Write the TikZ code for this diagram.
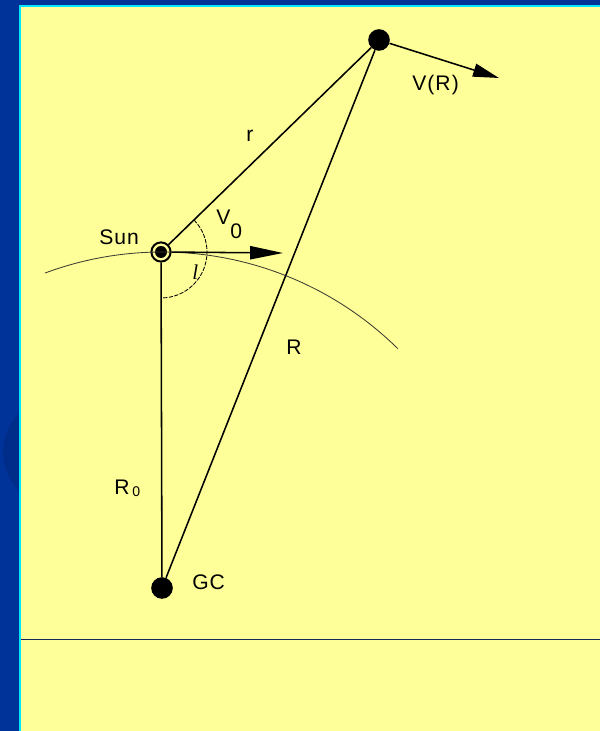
\documentclass[tikz,border=0pt]{standalone}
\usepackage{fontspec}
\setmainfont{Liberation Sans}[LetterSpace=5]
\newfontfamily\serifit{Liberation Serif}
\usetikzlibrary{arrows.meta,calc}
\definecolor{slidecolor}{RGB}{0,51,153}
\definecolor{shadecolor}{RGB}{0,44,138}
\definecolor{edgecolor}{RGB}{0,230,255}
\definecolor{panelcolor}{RGB}{255,255,153}
\definecolor{rulecolor}{RGB}{20,40,90}
\definecolor{orbitcolor}{RGB}{60,60,50}
\tikzset{
    body/.style={
        circle,
        fill=black,
        inner sep=0pt,
        minimum size=0.54cm
    },
    sunring/.style={circle, draw=black, line width=1.4pt, fill=panelcolor, inner sep=0pt, minimum size=0.48cm},
    sundot/.style={circle, fill=black, inner sep=0pt, minimum size=0.3cm},
    tag/.style={font=\fontsize{15}{17}\selectfont, inner sep=0pt, anchor=base west},
    leg/.style={line width=1.1pt, draw=black},
    velocity/.style={-{Triangle[length=#1,width=0.33cm]}, line width=1.1pt},
    velocity/.default=0.75cm,
    orbit/.style={line width=0.6pt, draw=orbitcolor},
    anglearc/.style={line width=0.6pt, dash pattern=on 3pt off 1pt}
}

\begin{document}
\begin{tikzpicture}[x=0.025cm, y=0.025cm]
    \useasboundingbox (0,0) rectangle (600,731);

    % Slide background
    \fill[slidecolor] (0,0) rectangle (600,731);
    \begin{scope}
        \clip (0,0) rectangle (19,724);
        \fill[shadecolor] (58,279) circle[radius=55];
    \end{scope}
    \fill[edgecolor] (19,0) rectangle (600,726);
    \fill[panelcolor] (21,0) rectangle (600,724);
    \draw[rulecolor, line width=0.6pt] (21,92) -- (600,92);

    % Bodies
    \node[sunring] (sun) at (161,479) {};
    \node[sundot] (suncore) at (sun.center) {};
    \node[body] (gc) at (162,143) {};
    \node[body] (star) at (379,691) {};
    \coordinate (vrtip) at (499,653);
    \coordinate (vzerotip) at (283,478);

    % Solar circle and angle l
    \draw[orbit] ([shift={(110.4:336)}]gc.center) arc[start angle=110.4, end angle=45.4, radius=336];
    \draw[anglearc] ([shift={(44.2:46)}]sun.center) arc[start angle=44.2, end angle=-90, radius=46];

    % Triangle
    \draw[leg] (sun) -- (star);
    \draw[leg] (sun) -- (gc);
    \draw[leg] (gc) -- (star);

    % Velocities
    \draw[velocity=0.65cm] (star) -- (vrtip);
    \draw[velocity=0.82cm] (sun) -- (vzerotip);

    % Labels
    \node[tag] (sunlabel) at (99,486) {Sun};
    \node[tag] (gclabel) at (192,141) {GC};
    \node[tag] (rlabel) at (246,589) {r};
    \node[tag] (vrlabel) at (412,640) {V(R)};
    \node[tag] (biglabel) at (286,376) {R};
    \node[tag] (rzerolabel) at (114,236) {R\hspace{2pt}\raisebox{-0.05cm}{\fontsize{10}{12}\selectfont 0}};
    \node[tag] (vzerolabel) at (216,506) {V\raisebox{-0.35cm}{0}};
    \node[tag, font=\fontsize{15}{17}\selectfont\serifit\itshape] (llabel) at (192,451) {l};
\end{tikzpicture}
\end{document}
